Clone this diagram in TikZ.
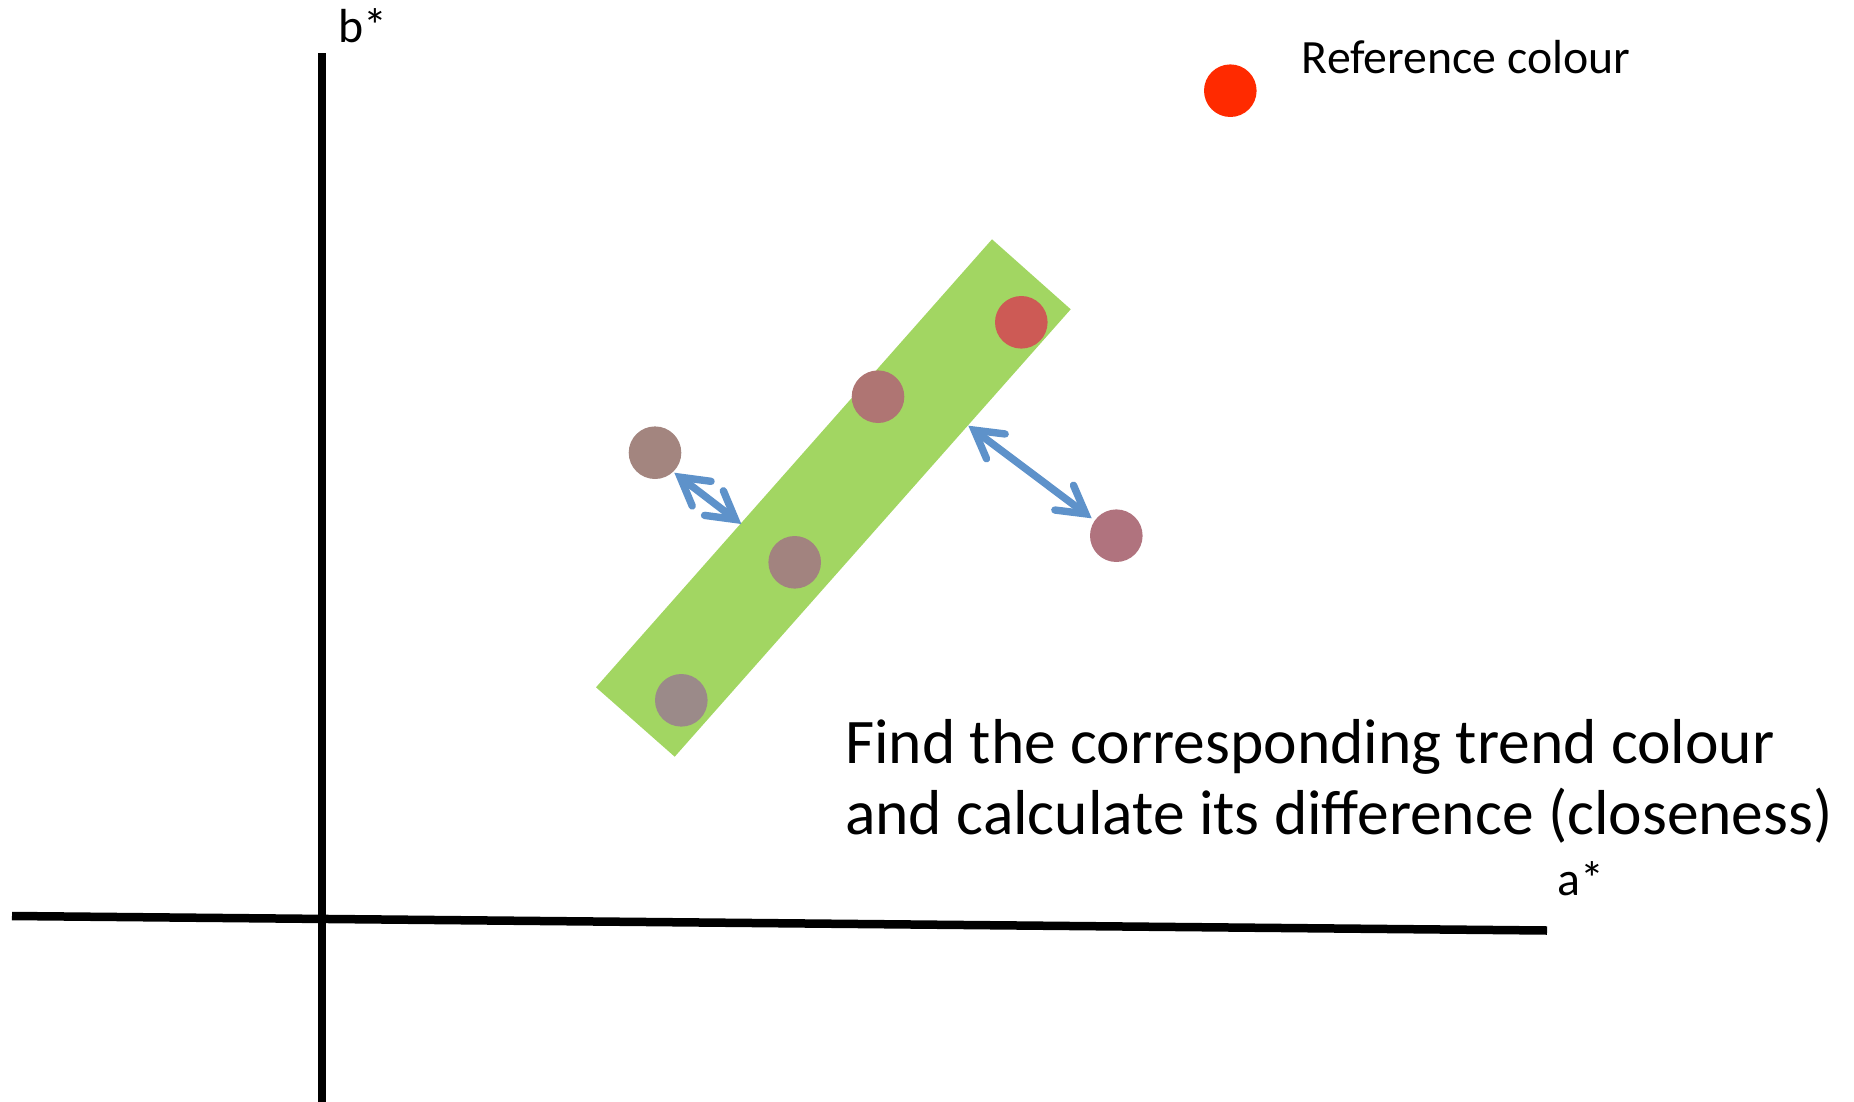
\documentclass[tikz,border=0pt]{standalone}
\usepackage{fontspec}
\setmainfont{Carlito}
\usetikzlibrary{arrows.meta}
\definecolor{bandgreen}{HTML}{A2D662}
\definecolor{arrowblue}{HTML}{5E92CA}
\definecolor{refred}{HTML}{FF2A00}
\definecolor{dotA}{HTML}{CD5A55}
\definecolor{dotB}{HTML}{AF7573}
\definecolor{dotC}{HTML}{A3857F}
\definecolor{dotD}{HTML}{A2837F}
\definecolor{dotE}{HTML}{9B8A89}
\definecolor{dotF}{HTML}{B0737E}
\tikzset{
  dot/.style={circle, minimum size=52.6pt, inner sep=0pt, draw=none, fill=#1},
  axisline/.style={line width=8.5pt, black},
  smalltext/.style={inner sep=0pt, font=\fontsize{47.8}{57}\selectfont},
  bigtext/.style={inner sep=0pt, align=left, font=\fontsize{63.5}{71}\selectfont},
  diffarrow/.style={line width=7.4pt, arrowblue, line cap=round,
    {Straight Barb[length=27pt,width=31pt,line cap=round]}-{Straight Barb[length=27pt,width=31pt,line cap=round]}}
}
\begin{document}
\begin{tikzpicture}[x=1pt,y=-1pt]
\useasboundingbox (0,0) rectangle (1854,1102);
% axes
\coordinate (ytop) at (322,53);
\coordinate (ybot) at (322,1106);
\coordinate (xl) at (12,916);
\coordinate (xr) at (1547,930.5);
\draw[axisline] (ybot) -- (ytop);
\draw[axisline] (xl) -- (xr);
\node[smalltext, anchor=base west] (blabel) at (338,43) {b*};
\node[smalltext, anchor=base west] (alabel) at (1557,895) {a*};
% trend band
\fill[bandgreen] (992,239.3) -- (1070.7,309.3) -- (674.7,756.7) -- (596,687.3) -- cycle;
% dots
\node[dot=dotA] (d1) at (1021.3,322.3) {};
\node[dot=dotB] (d2) at (878,396.7) {};
\node[dot=dotC] (d3) at (655,452.7) {};
\node[dot=dotD] (d4) at (794.7,562.3) {};
\node[dot=dotE] (d5) at (681.3,700.3) {};
\node[dot=dotF] (d6) at (1116.3,535.7) {};
\node[dot=refred] (ref) at (1230.3,90.7) {};
% band edge points
\coordinate (e1) at (741.3,524);
\coordinate (e2) at (968.3,425.7);
\coordinate (s1) at (674.3,472.7);
\coordinate (s2) at (1091.7,518.3);
% arrows
\draw[diffarrow] (s1) -- (e1);
\draw[diffarrow] (e2) -- (s2);
% texts
\node[smalltext, anchor=base west] (reftext) at (1301.7,73.3) {Reference colour};
\node[bigtext, anchor=base west] (main) at (845,834.3) {Find the corresponding trend colour\\and calculate its difference (closeness)};
\end{tikzpicture}
\end{document}
